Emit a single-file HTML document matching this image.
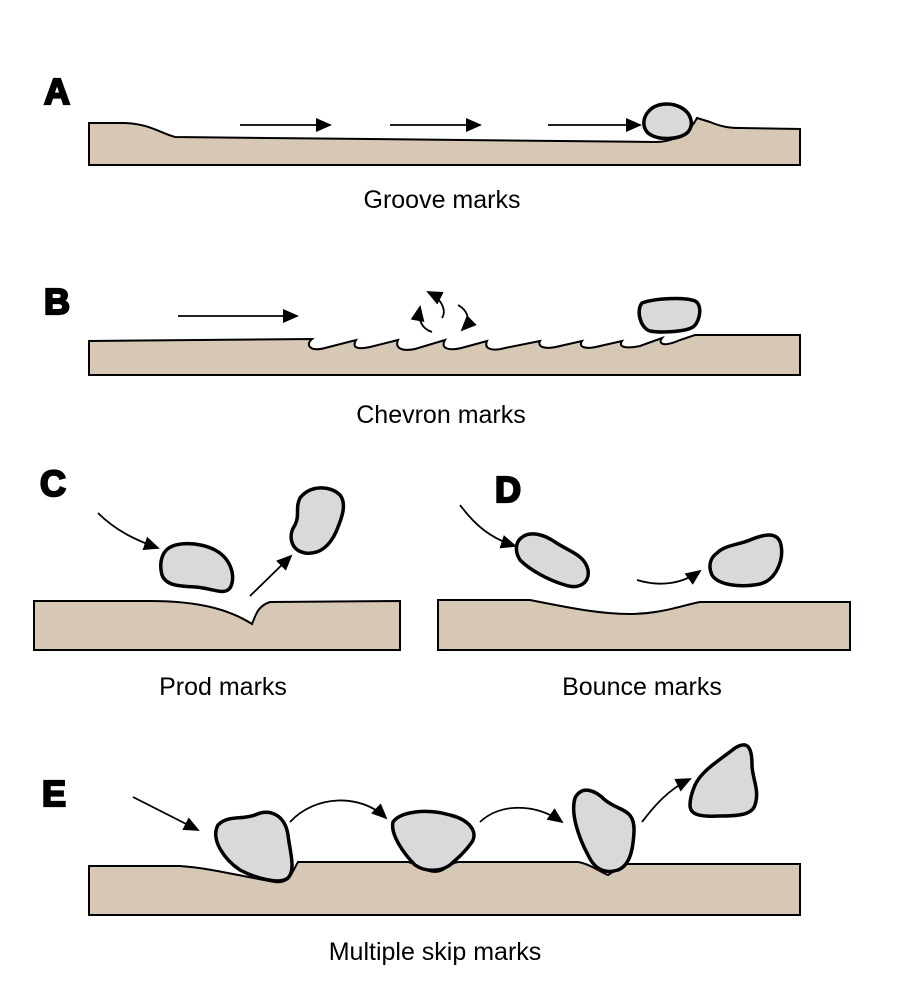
<!DOCTYPE html>
<html><head><meta charset="utf-8"><style>
html,body{margin:0;padding:0;background:#fff;}
svg{display:block;}
text{font-family:"Liberation Sans",Arial,sans-serif;}
.lbl{font-size:25px;text-anchor:middle;fill:#000;}
.let{font-size:36px;font-weight:bold;fill:#000;stroke:#000;stroke-width:2.2;}
.sed{fill:#d6c8b4;stroke:#000;stroke-width:2;}
.rock{fill:#d9d9d9;stroke:#000;stroke-width:3.5;stroke-linejoin:round;}
.ar{fill:none;stroke:#000;stroke-width:1.8;marker-end:url(#ah);}
</style></head><body>
<svg width="912" height="1000" viewBox="0 0 912 1000" xmlns="http://www.w3.org/2000/svg">
<defs><marker id="ah" markerWidth="16" markerHeight="14" refX="14" refY="7" orient="auto" markerUnits="userSpaceOnUse" viewBox="0 0 16 14"><path d="M0,0 L16,7 L0,14 Z" fill="#000"/></marker></defs>

<!-- A -->
<text class="let" x="44" y="104">A</text>
<path class="sed" d="M89,165 L89,123 L125,123 C150,124 160,133 175,137 L655,142 C675,142 690,132 697,118 L710,122 C722,127 730,128 740,128 L800,129 L800,165 Z"/>
<path class="rock" d="M648,112 C655,103 670,102 680,107 C692,113 694,125 688,132 C680,140 658,141 648,133 C642,127 643,118 648,112 Z"/>
<line class="ar" x1="240" y1="125" x2="330" y2="125"/>
<line class="ar" x1="390" y1="125" x2="480" y2="125"/>
<line class="ar" x1="548" y1="125" x2="640" y2="125"/>
<text class="lbl" x="442" y="208">Groove marks</text>

<!-- B -->
<text class="let" x="44" y="314">B</text>
<path class="sed" d="M89,375 L89,341 L312,339 C305,345 310,352 325,348 L356,340 C352,347 356,350 370,347 L398,340 C395,347 400,352 415,349 L445,340 C440,348 448,352 465,347 L487,341 C484,348 490,352 505,348 L540,341 C537,347 545,350 560,346 L582,341 C578,347 585,350 600,346 L622,341 C618,347 625,349 640,346 L662,338 C658,343 662,348 680,340 L695,335 L800,335 L800,375 Z"/>
<path class="rock" d="M642,303 C655,298 685,297 695,301 C703,305 700,322 693,327 C685,332 660,333 650,331 C640,328 636,310 642,303 Z"/>
<line class="ar" x1="178" y1="316" x2="297" y2="316"/>
<path class="ar" d="M432,332 C420,328 418,318 420,307"/>
<path class="ar" d="M442,318 C446,312 444,300 428,292"/>
<path class="ar" d="M458,305 C470,312 470,322 462,330"/>
<text class="lbl" x="441" y="423">Chevron marks</text>

<!-- C -->
<text class="let" x="40" y="496">C</text>
<path class="sed" d="M34,650 L34,601 L150,601 C200,601 230,610 252,624 C256,614 258,606 270,602 L400,601 L400,650 Z"/>
<path class="rock" d="M164,553 C172,540 200,542 215,550 C232,559 236,578 230,588 C224,596 212,588 195,587 C180,586 166,586 162,575 C160,567 160,560 164,553 Z"/>
<path class="rock" d="M300,498 C310,485 330,485 340,495 C348,505 340,522 336,532 C330,545 320,555 305,553 C290,550 288,535 295,525 C300,515 295,508 300,498 Z"/>
<path class="ar" d="M98,513 C115,530 135,540 158,548"/>
<line class="ar" x1="250" y1="596" x2="291" y2="556"/>
<text class="lbl" x="223" y="695">Prod marks</text>

<!-- D -->
<text class="let" x="495" y="502">D</text>
<path class="sed" d="M438,650 L438,600 L530,600 C570,608 600,614 630,614 C660,614 680,606 700,602 L850,602 L850,650 Z"/>
<path class="rock" d="M521,538 C530,530 545,535 555,542 C570,552 585,555 588,570 C590,582 580,590 565,585 C548,580 530,570 520,560 C515,552 515,543 521,538 Z"/>
<path class="rock" d="M717,553 C725,545 738,545 750,540 C762,535 778,530 781,545 C784,560 776,580 760,584 C740,588 718,585 712,575 C708,566 710,558 717,553 Z"/>
<path class="ar" d="M460,505 C475,525 490,538 515,546"/>
<path class="ar" d="M637,580 C660,587 682,584 700,571"/>
<text class="lbl" x="642" y="695">Bounce marks</text>

<!-- E -->
<text class="let" x="42" y="806">E</text>
<path class="sed" d="M89,915 L89,866 L180,866 C210,868 240,876 275,882 C290,884 292,872 298,862 L408,862 C418,864 425,872 435,872 C445,872 447,864 458,862 L578,862 C590,864 600,872 608,875 L625,864 L800,864 L800,915 Z"/>
<path class="rock" d="M218,825 C228,815 240,820 255,815 C270,808 285,815 288,835 C290,852 296,870 288,878 C280,885 255,878 240,870 C225,860 210,840 218,825 Z"/>
<path class="rock" d="M393,822 C400,812 425,808 450,815 C470,820 478,832 472,842 C465,852 458,858 450,865 C440,872 425,872 415,865 C405,855 390,835 393,822 Z"/>
<path class="rock" d="M575,798 C582,785 595,790 605,800 C620,812 635,808 634,832 C633,850 630,865 618,870 C605,874 595,870 588,855 C580,840 570,815 575,798 Z"/>
<path class="rock" d="M695,785 C702,770 720,760 735,748 C748,740 752,748 752,765 C752,778 760,790 755,805 C752,815 738,816 720,816 C700,817 690,815 690,805 C690,798 692,792 695,785 Z"/>
<line class="ar" x1="133" y1="797" x2="198" y2="830"/>
<path class="ar" d="M290,822 C315,795 360,793 386,818"/>
<path class="ar" d="M480,822 C500,803 535,803 562,822"/>
<path class="ar" d="M642,822 C655,805 668,790 690,779"/>
<text class="lbl" x="435" y="960">Multiple skip marks</text>
</svg>
</body></html>
